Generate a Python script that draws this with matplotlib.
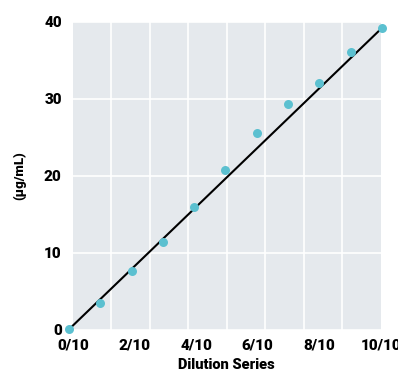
import numpy as np
import matplotlib.pyplot as plt

# dilution step (tenths) and measured concentration
steps = [0, 1, 2, 3, 4, 5, 6, 7, 8, 9, 10]
conc = [0.1, 3.5, 7.7, 11.4, 16.0, 20.8, 25.6, 29.4, 32.1, 36.1, 39.2]
tick_labels = ["0/10", "2/10", "4/10", "6/10", "8/10", "10/10"]

plt.rcParams['font.family'] = ['Roboto', 'DejaVu Sans']

fig = plt.figure(figsize=(3.98, 3.78), dpi=100)
ax = fig.add_axes([0.183, 0.127, 0.774, 0.815])
ax.set_facecolor("#e5e9ed")

lo, hi = 0.12, 9.97
ax.set_xlim(lo, hi)
ax.set_ylim(0, 40)

ax.set_xticks(np.linspace(lo, hi, 6))
ax.set_xticklabels(tick_labels)
ax.set_xticks(np.linspace(lo, hi, 9), minor=True)
ax.set_yticks([0, 10, 20, 30, 40])

ax.grid(True, which='minor', axis='x', color='white', lw=1.2)
ax.grid(True, which='major', axis='y', color='white', lw=1.2)
ax.set_axisbelow(True)
for s in ax.spines.values():
    s.set_visible(False)

ax.tick_params(which='both', length=0)
ax.tick_params(axis='x', pad=6, labelsize=11)
ax.tick_params(axis='y', pad=8, labelsize=11)
for t in ax.get_xticklabels() + ax.get_yticklabels():
    t.set_fontweight('heavy')

# straight line through first and last readings
ax.plot([steps[0], steps[-1]], [conc[0], conc[-1]], color='black', lw=1.5,
        clip_on=False, zorder=2)
ax.scatter(steps, conc, s=42, color='#5bc0d0', zorder=3, clip_on=False,
           linewidths=0)

ax.set_xlabel("Dilution Series", fontsize=10.5, fontweight='heavy', labelpad=4)
ax.set_ylabel("(μg/mL)", fontsize=9.5, fontweight='heavy', labelpad=13)

fig.savefig("out.png", dpi=100)
